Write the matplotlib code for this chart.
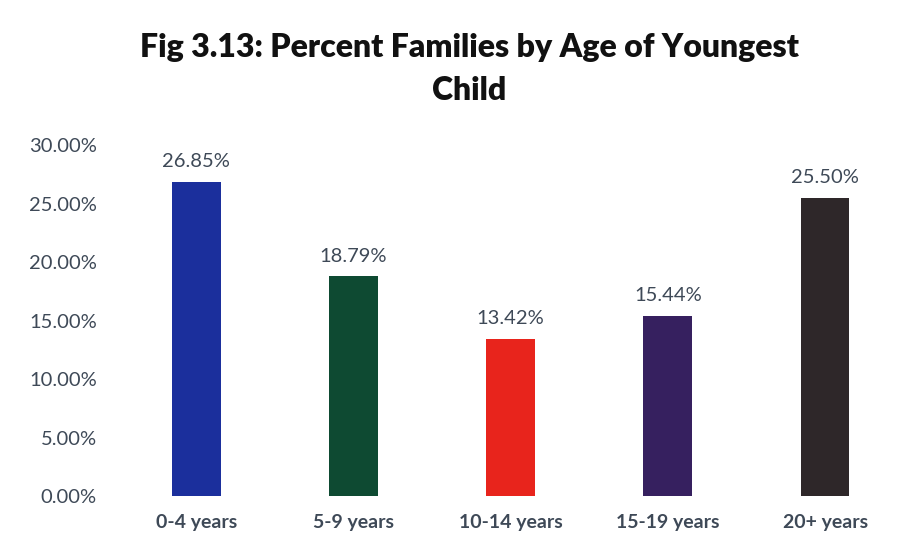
import numpy as np
import matplotlib.pyplot as plt

# Share of families by age of the youngest child
age_groups = ["0-4 years", "5-9 years", "10-14 years", "15-19 years", "20+ years"]
percent_families = [26.85, 18.79, 13.42, 15.44, 25.50]
bar_colors = ["#1b2f9c", "#0e4a32", "#e8241c", "#36205f", "#2e2729"]
y_ticks = [0, 5, 10, 15, 20, 25, 30]

plt.rcParams.update({"font.family": ["Lato", "DejaVu Sans"]})
label_color = "#3e4957"

fig = plt.figure(figsize=(9.11, 5.44), dpi=100)
ax = fig.add_axes([0.129, 0.088, 0.863, 0.645])

x = np.arange(len(age_groups))
bars = ax.bar(x, percent_families, width=0.31, color=bar_colors)

for xi, val in zip(x, percent_families):
    ax.text(xi, val + 1.0, f"{val:.2f}%", ha="center", va="bottom",
            fontsize=14.5, color=label_color)

ax.set_xlim(-0.5, len(age_groups) - 0.5)
ax.set_ylim(0, 30)
ax.set_yticks(y_ticks)
ax.set_yticklabels([f"{t:.2f}%" for t in y_ticks], fontsize=14.5,
                   color=label_color)
ax.set_xticks(x)
ax.set_xticklabels(age_groups, fontsize=14, color=label_color,
                   fontweight="bold")
ax.tick_params(length=0, pad=15)
ax.tick_params(axis="x", pad=13)
for side in ax.spines.values():
    side.set_visible(False)

fig.text(0.515, 0.912, "Fig 3.13: Percent Families by Age of Youngest",
         ha="center", va="center", fontsize=23, fontweight="heavy",
         color="#111111")
fig.text(0.515, 0.834, "Child", ha="center", va="center", fontsize=23,
         fontweight="heavy", color="#111111")

fig.savefig("out.png", dpi=100)
